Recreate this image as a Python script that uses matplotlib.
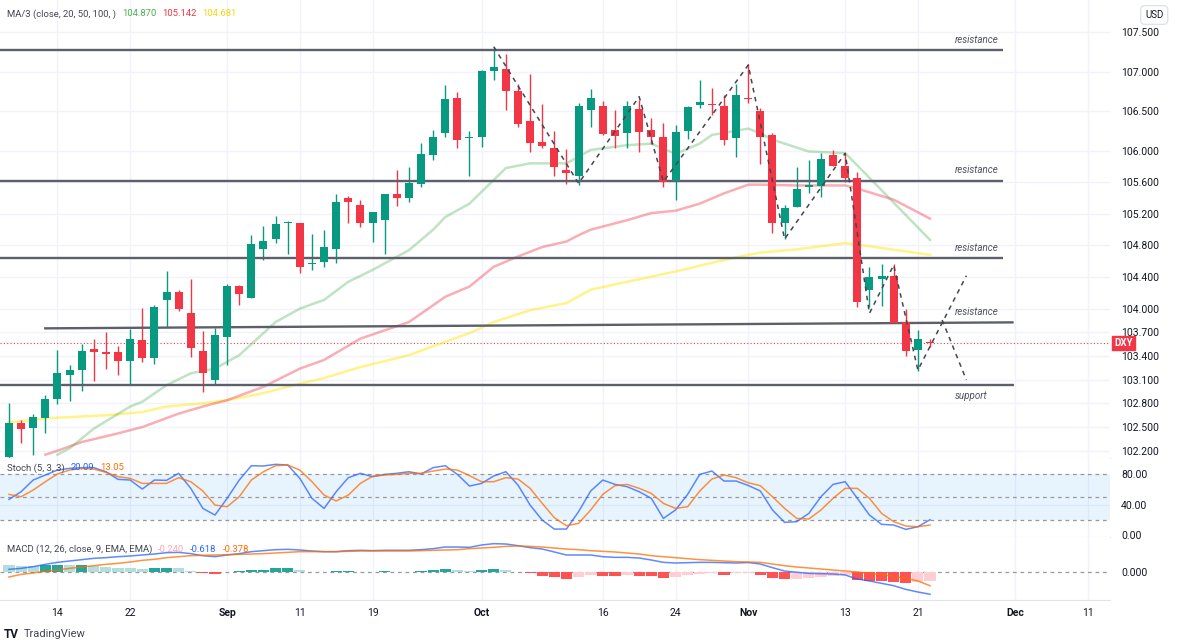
import matplotlib
matplotlib.use("Agg")
import matplotlib.pyplot as plt
import matplotlib.transforms as mtransforms
import numpy as np
import pandas as pd

plt.rcParams["font.family"] = ["Roboto", "DejaVu Sans"]

# ---- DXY daily candles, 8 Aug - 22 Nov 2023 ----
opens = [102.12, 102.555, 102.49, 102.62, 102.86, 103.16, 103.22, 103.49, 103.455, 103.45,
         103.34, 103.60, 103.37, 104.11, 104.21, 103.94, 103.46, 103.10, 103.64, 104.29,
         104.14, 104.76, 104.88, 105.08, 105.08, 104.56, 104.59, 104.75, 105.40, 105.31,
         105.09, 105.12, 105.45, 105.40, 105.58, 105.95, 106.22, 106.67, 106.16, 106.17,
         107.01, 107.04, 106.76, 106.38, 106.11, 106.04, 105.75, 105.68, 106.52, 106.57,
         106.26, 106.22, 106.53, 106.26, 106.17, 105.62, 106.25, 106.58, 106.59, 106.57,
         106.16, 106.67, 106.50, 106.20, 105.09, 105.29, 105.54, 105.55, 105.94, 105.81,
         105.66, 104.24, 104.38, 104.41, 103.83, 103.48, 103.58]
highs = [102.81, 102.59, 102.665, 102.91, 103.48, 103.29, 103.55, 103.62, 103.70, 103.53,
         103.74, 104.01, 104.05, 104.48, 104.24, 104.38, 103.72, 103.76, 104.31, 104.30,
         104.93, 105.05, 105.17, 105.11, 105.08, 104.94, 104.99, 105.45, 105.43, 105.38,
         105.22, 105.45, 105.75, 105.80, 106.10, 106.26, 106.83, 106.75, 106.25, 107.02,
         107.32, 107.23, 106.85, 106.97, 106.59, 106.25, 106.02, 106.61, 106.78, 106.63,
         106.52, 106.63, 106.64, 106.42, 106.35, 106.33, 106.57, 106.89, 106.80, 106.71,
         106.85, 107.10, 106.54, 106.23, 105.31, 105.79, 105.88, 105.97, 106.01, 105.96,
         105.73, 104.53, 104.57, 104.565, 103.99, 103.73, 103.62]
lows = [102.05, 102.30, 102.146, 102.43, 102.79, 102.83, 102.96, 103.08, 103.24, 103.16,
        103.03, 103.32, 103.30, 103.77, 103.97, 103.39, 102.95, 103.04, 103.29, 104.05,
        104.14, 104.62, 104.83, 104.69, 104.45, 104.49, 104.53, 104.58, 105.09, 105.04,
        104.84, 104.69, 105.30, 105.35, 105.54, 105.88, 106.18, 106.04, 105.68, 106.05,
        106.90, 106.52, 106.30, 105.98, 106.04, 105.68, 105.58, 105.56, 106.30, 106.20,
        106.04, 106.03, 105.99, 106.09, 105.54, 105.38, 106.15, 106.54, 106.45, 106.07,
        105.92, 106.61, 105.83, 104.96, 104.88, 105.29, 105.47, 105.41, 105.81, 105.61,
        104.02, 104.02, 104.03, 103.82, 103.40, 103.21, 103.51]
closes = [102.55, 102.48, 102.63, 102.86, 103.18, 103.22, 103.46, 103.45, 103.42, 103.34,
          103.62, 103.38, 104.02, 104.21, 104.00, 103.50, 103.19, 103.66, 104.29, 104.18,
          104.82, 104.86, 105.07, 105.09, 104.53, 104.58, 104.78, 105.35, 105.35, 105.09,
          105.22, 105.45, 105.40, 105.59, 105.96, 106.18, 106.65, 106.14, 106.17, 107.01,
          107.06, 106.76, 106.34, 106.10, 106.06, 105.79, 105.72, 106.57, 106.67, 106.21,
          106.19, 106.57, 106.24, 106.17, 105.60, 106.24, 106.55, 106.62, 106.575, 106.14,
          106.71, 106.65, 106.17, 105.09, 105.28, 105.51, 105.56, 105.90, 105.81, 105.66,
          104.09, 104.40, 104.41, 103.82, 103.46, 103.62, 103.564]
last_price = 103.564

# moving averages (bar number, value)
ma20_bars = [4, 5, 7, 10, 11, 13, 15, 17, 19, 20, 22, 24, 26, 28, 30, 33, 35, 36, 38, 40, 41,
             43, 46, 48, 51, 53, 55, 57, 58, 61, 62, 63, 66, 69, 72, 76]
ma20_vals = [102.15, 102.23, 102.48, 102.76, 102.82, 103.03, 103.18, 103.24, 103.41, 103.55,
             103.83, 104.00, 104.11, 104.34, 104.49, 104.74, 105.00, 105.16, 105.33, 105.63,
             105.78, 105.84, 105.84, 106.01, 106.07, 106.09, 105.96, 106.09, 106.20, 106.28,
             106.22, 106.14, 105.99, 105.97, 105.50, 104.87]
ma50_bars = [3, 4, 6, 9, 11, 14, 16, 18, 21, 24, 26, 29, 33, 36, 38, 40, 42, 44, 46, 47, 48,
             51, 53, 55, 57, 59, 61, 62, 65, 69, 70, 73, 76]
ma50_vals = [102.15, 102.20, 102.31, 102.42, 102.50, 102.67, 102.76, 102.84, 103.01, 103.24,
             103.35, 103.62, 103.83, 104.15, 104.28, 104.53, 104.66, 104.78, 104.85, 104.93,
             105.00, 105.12, 105.21, 105.24, 105.33, 105.46, 105.57, 105.57, 105.56, 105.56,
             105.52, 105.38, 105.14]
ma100_bars = [0, 3, 8, 11, 13, 16, 18, 21, 24, 26, 29, 33, 36, 38, 40, 43, 46, 48, 51, 55, 58,
              60, 62, 65, 69, 70, 71, 76]
ma100_vals = [102.56, 102.61, 102.65, 102.69, 102.76, 102.80, 102.84, 102.93, 103.05, 103.12,
              103.26, 103.41, 103.58, 103.69, 103.83, 103.98, 104.07, 104.24, 104.34, 104.47,
              104.58, 104.65, 104.71, 104.75, 104.83, 104.81, 104.79, 104.68]

# drawn levels: (bar start, price start, bar end, price end, label)
levels = [(-0.8, 107.27, 82.0, 107.27, "resistance"),
          (-0.8, 105.616, 82.0, 105.616, "resistance"),
          (-0.8, 104.637, 82.0, 104.637, "resistance"),
          (2.9, 103.75, 82.9, 103.826, "resistance"),
          (-0.8, 103.03, 82.9, 103.03, "support")]

# dashed zigzag path and the projected branch
zig_bars = [40, 47, 52, 54, 61, 64, 69, 71, 73, 75, 79]
zig_vals = [107.317, 105.587, 106.684, 105.607, 107.085, 104.882, 105.967, 103.94, 104.552,
            103.222, 104.417]
branch_bars = [77, 79]
branch_vals = [103.856, 103.096]

# Stochastic (5, 3, 3)
stoch_k = [46.7, 56.8, 72.1, 78.7, 85.2, 87.4, 88.3, 88.3, 83.0, 73.0, 72.1, 60.3, 72.1, 71.7,
           80.9, 61.2, 34.9, 26.2, 48.1, 72.1, 90.9, 90.5, 92.7, 91.8, 74.3, 48.1, 34.9, 56.8,
           75.2, 80.9, 76.5,
           79.5, 80.9, 83.0, 80.0, 88.3, 90.9, 79.5, 64.2, 67.7, 77.4, 83.0, 65.5, 39.3, 19.6,
           7.8, 7.8, 30.6, 57.7, 72.1, 66.4, 63.4, 56.8, 48.1, 21.8, 32.8, 53.3, 79.5, 83.9,
           70.8, 70.8, 65.0,
           57.7, 32.8, 16.6, 17.5, 28.4, 50.2, 66.4, 69.9, 48.1, 26.2, 14.0, 13.1, 7.4, 10.9,
           20.09]
stoch_d = [53.3, 50.2, 59.0, 69.9, 80.0, 85.2, 87.4, 86.5, 82.2, 76.5, 74.3, 67.7, 67.7, 67.7,
           75.2, 69.9, 57.7, 39.3, 37.1, 50.2, 72.1, 83.0, 90.9, 91.8, 85.2, 69.9, 52.4, 44.6,
           52.4, 67.7, 77.0,
           78.7, 79.5, 80.9, 80.9, 83.9, 86.5, 85.2, 77.8, 69.9, 69.9, 75.2, 73.4, 61.2, 41.5,
           22.7, 12.2, 15.3, 32.8, 53.3, 64.7, 66.4, 61.2, 54.6, 41.5, 34.9, 37.1, 57.7, 73.4,
           78.7, 75.2, 68.5,
           64.7, 50.2, 34.9, 21.8, 21.0, 32.8, 48.1, 61.2, 61.2, 48.1, 28.4, 17.5, 11.8, 10.9,
           13.05]

# MACD (12, 26, 9)
macd_line = [0.083, 0.111, 0.158, 0.224, 0.280, 0.318, 0.356, 0.393, 0.412, 0.440, 0.459, 0.487,
             0.515, 0.553, 0.562, 0.525, 0.468, 0.440, 0.487, 0.525, 0.581, 0.609, 0.637, 0.647,
             0.628, 0.600, 0.581, 0.581, 0.609, 0.619, 0.610,
             0.619, 0.619, 0.619, 0.637, 0.665, 0.712, 0.712, 0.703, 0.769, 0.806, 0.797, 0.750,
             0.694, 0.656, 0.572, 0.487, 0.487, 0.487, 0.440, 0.421, 0.421, 0.402, 0.346, 0.280,
             0.262, 0.271, 0.280, 0.280, 0.271, 0.262, 0.275,
             0.233, 0.130, 0.036, 0.0, -0.029, -0.039, -0.048, -0.076, -0.189, -0.245, -0.311,
             -0.377, -0.480, -0.555, -0.618]
signal_line = [-0.133, -0.058, -0.020, 0.027, 0.064, 0.111, 0.149, 0.186, 0.224, 0.252, 0.290,
               0.337, 0.365, 0.412, 0.440, 0.468, 0.478, 0.487, 0.496, 0.506, 0.515, 0.525,
               0.543, 0.562, 0.581, 0.581, 0.581, 0.581, 0.590, 0.600, 0.600,
               0.600, 0.600, 0.600, 0.609, 0.619, 0.628, 0.637, 0.665, 0.684, 0.703, 0.731,
               0.741, 0.731, 0.712, 0.684, 0.656, 0.637, 0.609, 0.590, 0.572, 0.543, 0.515,
               0.468, 0.440, 0.412, 0.384, 0.356, 0.337, 0.318, 0.300, 0.290,
               0.280, 0.233, 0.186, 0.149, 0.121, 0.093, 0.064, 0.036, 0.008, -0.029, -0.067,
               -0.114, -0.170, -0.245, -0.378]
macd_hist = [0.207, 0.178, 0.178, 0.207, 0.21, 0.197, 0.207, 0.188, 0.160, 0.131, 0.113, 0.094,
             0.113, 0.117, 0.113, 0.038, -0.019, -0.038, 0.009, 0.028, 0.066, 0.075, 0.113,
             0.115, 0.066, 0.019, 0.009, 0.028, 0.047, 0.01, 0.008,
             0.038, 0.005, 0.009, 0.028, 0.056, 0.094, 0.066, 0.028, 0.066, 0.094, 0.066, 0.019,
             -0.028, -0.094, -0.141, -0.188, -0.122, -0.075, -0.113, -0.117, -0.075, -0.113,
             -0.117, -0.160, -0.122, -0.075, -0.056, -0.028, -0.075, -0.028, -0.019,
             -0.075, -0.150, -0.178, -0.175, -0.17, -0.122, -0.094, -0.09, -0.216, -0.244,
             -0.245, -0.263, -0.291, -0.263, -0.240]

# axis labels
price_ticks = [107.5, 107.0, 106.5, 106.0, 105.6, 105.2, 104.8, 104.4, 104.0, 103.7, 103.4,
               103.1, 102.8, 102.5, 102.2]
tick_dates = ["2023-08-14", "2023-08-22", "2023-09-01", "2023-09-11", "2023-09-19",
              "2023-10-02", "2023-10-16", "2023-10-24", "2023-11-01", "2023-11-13",
              "2023-11-21", "2023-12-01", "2023-12-11"]
tick_labels = ["14", "22", "Sep", "11", "19", "Oct", "16", "24", "Nov", "13", "21", "Dec", "11"]

# ---- styling ----
UP, DOWN = "#089981", "#f23645"
GRID = "#f0f3fa"
TXT = "#131722"
W, H = 1183, 643

days = pd.bdate_range("2023-08-08", "2023-12-29")
tick_pos = days.get_indexer(pd.to_datetime(tick_dates))
xb = np.arange(len(opens))
o, h, l, c = map(np.array, (opens, highs, lows, closes))

fig = plt.figure(figsize=(W / 100, H / 100), dpi=100)
fig.patch.set_facecolor("white")


def pane(top, bottom):
    ax = fig.add_axes([0, 1 - bottom / H, 1110 / W, (bottom - top) / H])
    ax.set_xlim(-0.74, 90.85)
    for s in ("left", "top", "right"):
        ax.spines[s].set_visible(False)
    ax.spines["bottom"].set_color("#e0e3eb")
    ax.yaxis.tick_right()
    ax.tick_params(axis="y", length=0, pad=8, labelsize=7.5, labelcolor=TXT)
    ax.set_xticks(tick_pos)
    ax.grid(axis="x", color=GRID, lw=1)
    ax.set_axisbelow(True)
    return ax


ax1 = pane(0, 458)
ax2 = pane(458, 537)
ax3 = pane(537, 600)
for ax in (ax1, ax2):
    ax.tick_params(axis="x", length=0, labelbottom=False)
ax3.tick_params(axis="x", length=0, pad=6, labelsize=7.5, labelcolor=TXT)
ax3.set_xticklabels(tick_labels)
for lab, txt in zip(ax3.get_xticklabels(), tick_labels):
    if not txt.isdigit():
        lab.set_fontweight("bold")

# ---- price pane ----
ax1.set_ylim(102.108, 107.909)
ax1.set_yticks(price_ticks)
ax1.set_yticklabels([f"{v:.3f}" for v in price_ticks])
ax1.grid(axis="y", color=GRID, lw=1)

ax1.plot(ma100_bars, ma100_vals, color="#ffeb3b", lw=1.8, alpha=0.6, zorder=2)
ax1.plot(ma50_bars, ma50_vals, color="#f23645", lw=1.8, alpha=0.4, zorder=2)
ax1.plot(ma20_bars, ma20_vals, color="#4caf50", lw=1.8, alpha=0.35, zorder=2)

cols = np.where(c >= o, UP, DOWN)
ax1.vlines(xb, l, h, colors=cols, lw=1, zorder=3)
ax1.bar(xb, np.maximum(np.abs(c - o), 0.014), bottom=np.minimum(o, c), width=0.66,
        color=cols, zorder=4)

for x0, y0, x1, y1, name in levels:
    ax1.plot([x0, x1], [y0, y1], color="#5d606b", lw=1.7, zorder=3, solid_capstyle="butt")
    if name == "support":
        ax1.annotate(name, (78.06, y1), xytext=(0, -4), textcoords="offset points",
                     ha="left", va="top", fontsize=7, style="italic", color="#50535e")
    else:
        ax1.annotate(name, (78.06, y1), xytext=(0, 4), textcoords="offset points",
                     ha="left", va="bottom", fontsize=7, style="italic", color="#50535e")

ax1.plot(zig_bars, zig_vals, color="#434651", lw=1.1, ls=(0, (3, 3)), zorder=5)
ax1.plot(branch_bars, branch_vals, color="#434651", lw=1.1, ls=(0, (3, 3)), zorder=5)

ax1.axhline(last_price, color=DOWN, lw=0.8, ls=(0, (1, 2)), zorder=1)
tr = mtransforms.blended_transform_factory(ax1.transAxes, ax1.transData)
ax1.text(1.004, last_price, "DXY", transform=tr, ha="left", va="center", fontsize=7,
         fontweight="bold", color="white",
         bbox=dict(boxstyle="square,pad=0.25", fc=DOWN, ec=DOWN))

# ---- stochastic pane ----
ax2.set_ylim(-2.6, 101.0)
ax2.set_yticks([0, 40, 80])
ax2.set_yticklabels(["0.00", "40.00", "80.00"])
ax2.axhspan(20, 80, color="#2196f3", alpha=0.1, lw=0)
for lvl in (80, 50, 20):
    ax2.axhline(lvl, color="#9598a1", lw=0.9, ls=(0, (3, 3)))
ax2.axhline(40, color=GRID, lw=1, zorder=0)
ax2.plot(xb, stoch_k, color="#2962ff", lw=1.1, alpha=0.75)
ax2.plot(xb, stoch_d, color="#ff6d00", lw=1.1, alpha=0.75)

# ---- MACD pane ----
ax3.set_ylim(-0.78, 0.994)
ax3.set_yticks([0])
ax3.set_yticklabels(["0.000"])
ax3.axhline(0, color="#9598a1", lw=0.9, ls=(0, (3, 3)))
hist = np.array(macd_hist)
prev = np.concatenate([[hist[0]], hist[:-1]])
hcols = np.where(hist >= 0, np.where(hist > prev, "#26a69a", "#b2dfdb"),
                 np.where(hist > prev, "#ffcdd2", "#ff5252"))
ax3.bar(xb, hist, width=0.92, color=hcols, zorder=2)
ax3.plot(xb, macd_line, color="#2962ff", lw=1.1, alpha=0.75, zorder=3)
ax3.plot(xb, signal_line, color="#ff6d00", lw=1.1, alpha=0.75, zorder=3)


# ---- legends / captions ----
def legend_row(ax, y, parts):
    # first part placed in pixels, the rest chained after the previous text
    label, color = parts[0]
    prev = fig.text(7 / W, 1 - y / H, label, ha="left", va="center", fontsize=6.8, color=color)
    for label, color in parts[1:]:
        prev = ax.annotate(label, xy=(1, 0.5), xycoords=prev, xytext=(4.2, 0),
                           textcoords="offset points", ha="left", va="center",
                           fontsize=6.8, color=color, annotation_clip=False)


legend_row(ax1, 14, [("MA/3 (close, 20, 50, 100, )", "#434651"), ("104.870", "#4caf50"),
                     ("105.142", "#f23645"), ("104.681", "#f5d90a")])
legend_row(ax2, 468, [("Stoch (5, 3, 3)", "#434651"), ("20.09", "#2962ff"),
                      ("13.05", "#ff6d00")])
legend_row(ax3, 549, [("MACD (12, 26, close, 9, EMA, EMA)", "#434651"), ("-0.240", "#f7a9b0"),
                      ("-0.618", "#2962ff"), ("-0.378", "#ff6d00")])

fig.text(1145 / W, 1 - 15 / H, "USD", ha="left", va="center", fontsize=7, color=TXT,
         bbox=dict(boxstyle="round,pad=0.45", fc="white", ec="#e0e3eb"))

fig.text(4 / W, 1 - 634 / H, "TV", ha="left", va="center", fontsize=8.5, fontweight="bold",
         color=TXT)
fig.text(24 / W, 1 - 634 / H, "TradingView", ha="left", va="center", fontsize=8,
         color="#434651")

fig.savefig("out.png", dpi=100, facecolor="white")
